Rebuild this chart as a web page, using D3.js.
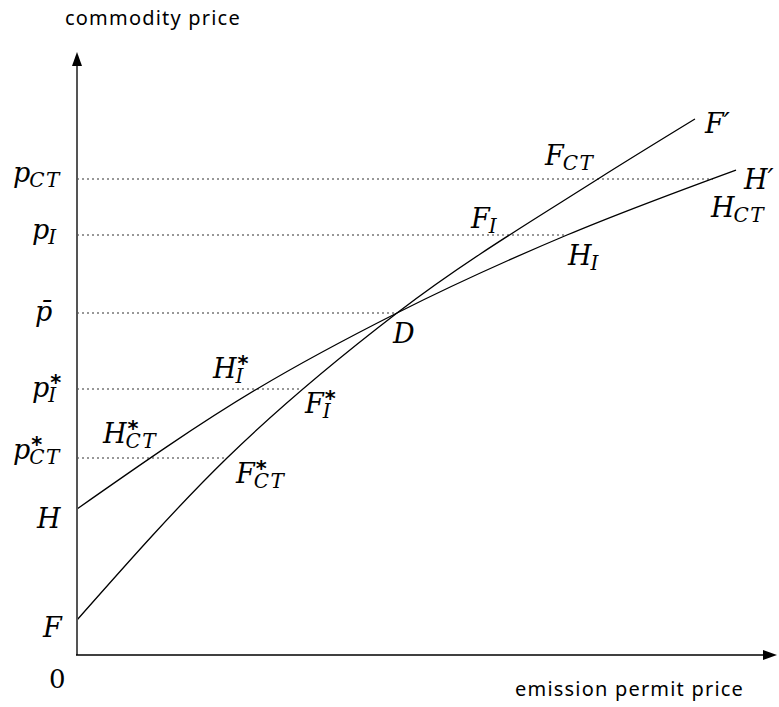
<!DOCTYPE html>
<html><head><meta charset="utf-8">
<script src="https://cdn.jsdelivr.net/npm/d3@7"></script>
<style>html,body{margin:0;padding:0;background:#fff}svg{display:block}</style>
</head><body>
<svg id="c" width="779" height="707"></svg>
<script>
// data units: x = emission permit price, y = commodity price (arbitrary units)
const curveF = [[0,35],[150,197],[320,342],[521,476],[618,536]];
const curveH = [[0,146],[180,266],[320,342],[490,420],[659,485]];
const priceLevels = [476, 420, 342, 266, 197];       // pCT, pI, pbar, pI*, pCT*
const levelEnds   = [636, 490, 320, 225, 150];       // where each dotted guide meets a curve
const priceLabels = [
  {base:"p", sub:"CT", sup:""},
  {base:"p", sub:"I",  sup:""},
  {base:"p̄", sub:"",   sup:""},
  {base:"p", sub:"I",  sup:"*"},
  {base:"p", sub:"CT", sup:"*"}
];

const svg = d3.select("#c");
const x = d3.scaleLinear().domain([0, 700]).range([77, 777]);
const y = d3.scaleLinear().domain([0, 655]).range([655, 0]);

// dotted guides
svg.append("g").selectAll("line").data(priceLevels).join("line")
  .attr("x1", x(0)).attr("x2", (d,i)=>x(levelEnds[i]))
  .attr("y1", d=>y(d)).attr("y2", d=>y(d))
  .attr("stroke", "#333").attr("stroke-width", 1.2).attr("stroke-dasharray", "2,3");

// curves
const line = d3.line().x(d=>x(d[0])).y(d=>y(d[1])).curve(d3.curveMonotoneX);
[curveF, curveH].forEach(c => svg.append("path").attr("d", line(c))
  .attr("fill","none").attr("stroke","#000").attr("stroke-width",1.3));

// axes
svg.append("line").attr("x1", x(0)).attr("x2", x(0)).attr("y1", y(0)).attr("y2", y(592))
  .attr("stroke", "#555").attr("stroke-width", 2);
svg.append("path").attr("d", `M${x(0)},${y(603)} L${x(0)-5},${y(589)} L${x(0)+5},${y(589)} Z`).attr("fill","#000");
svg.append("line").attr("x1", x(0)-1).attr("x2", x(688)).attr("y1", y(0)).attr("y2", y(0))
  .attr("stroke", "#000").attr("stroke-width", 1.6);
svg.append("path").attr("d", `M${x(700)},${y(0)} L${x(686)},${y(0)-5} L${x(686)},${y(0)+5} Z`).attr("fill","#000");

// axis titles
svg.append("text").attr("x", 65).attr("y", 25).text("commodity price")
  .attr("font-family", "'Noto Sans', sans-serif").attr("font-size", 20).attr("letter-spacing", 1.2);
svg.append("text").attr("x", 515).attr("y", 696).text("emission permit price")
  .attr("font-family", "'Noto Sans', sans-serif").attr("font-size", 20).attr("letter-spacing", 1.2);

// math labels (one text element each)
const MF = "'DejaVu Serif', serif";
function mathLabel(px, py, base, sub, sup) {
  const t = svg.append("text").attr("x", px).attr("y", py)
    .attr("font-family", MF).attr("font-style", "italic").attr("font-size", 27);
  t.append("tspan").text(base);
  let supW = 0, dyNow = 0;
  if (sup) {
    const s = t.append("tspan").text(sup).attr("dx", 1).attr("dy", -7)
      .attr("font-family", "'DejaVu Sans', sans-serif").attr("font-style", "normal")
      .attr("font-weight", "bold").attr("font-size", 21);
    supW = s.node().getComputedTextLength() + 1;
    dyNow = -7;
  }
  if (sub) t.append("tspan").text(sub).attr("dx", -supW - 1).attr("dy", 5 - dyNow)
    .attr("font-size", 20).attr("letter-spacing", 1.5);
  return t;
}
const axisLabelX = [13, 32, 35, 32, 13];
const axisLabelY = [182, 239, 321, 397, 459];
priceLabels.forEach((l,i) => mathLabel(axisLabelX[i], axisLabelY[i], l.base, l.sub, l.sup));
mathLabel(37, 528, "H", "", "");
mathLabel(43, 637, "F", "", "");
svg.append("text").attr("x", 49).attr("y", 688).text("0")
  .attr("font-family", "'DejaVu Serif', serif").attr("font-size", 26);

mathLabel(705, 133, "F′", "", "");
mathLabel(744, 189, "H′", "", "");
mathLabel(711, 217, "H", "CT", "");
mathLabel(545, 165, "F", "CT", "");
mathLabel(471, 228, "F", "I", "");
mathLabel(568, 265, "H", "I", "");
mathLabel(393, 343, "D", "", "");
mathLabel(213, 378, "H", "I", "*");
mathLabel(305, 413, "F", "I", "*");
mathLabel(236, 483, "F", "CT", "*");
mathLabel(103, 443, "H", "CT", "*");
</script>
</body></html>
